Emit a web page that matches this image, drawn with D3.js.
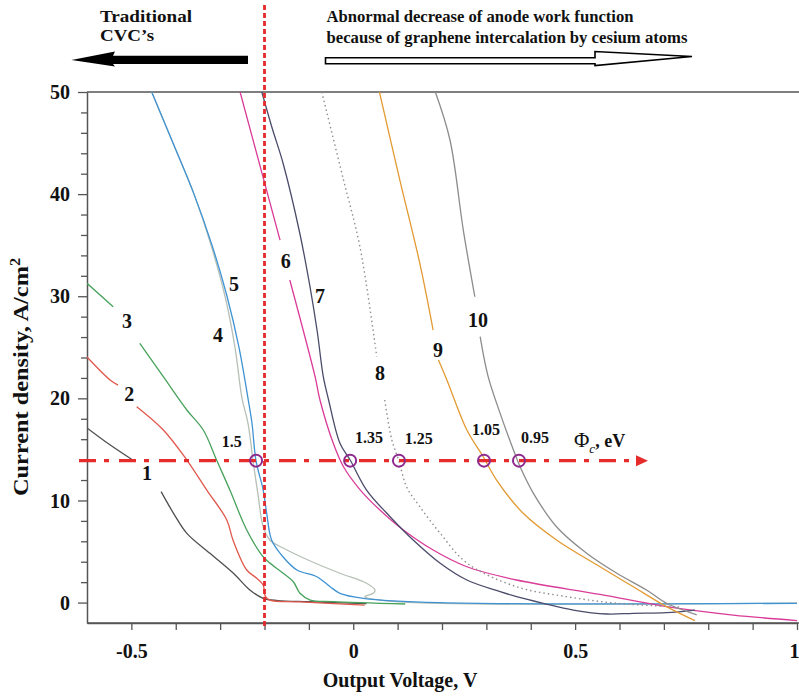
<!DOCTYPE html>
<html>
<head>
<meta charset="utf-8">
<script src="https://cdn.jsdelivr.net/npm/d3@7"></script>
<style>
  html, body { margin: 0; padding: 0; background: #fff; }
  svg { display: block; }
  text { font-family: "Liberation Serif", "Times New Roman", serif; font-weight: bold; fill: #111; }
</style>
</head>
<body>
<svg id="chart" width="799" height="696"></svg>
<script>
// Current–voltage characteristics, [output voltage V, current density A/cm²]; null marks a break for a label
const curve1 = [[-0.6,17.1],[-0.55,15.5],[-0.497,13.96],null,[-0.433,10.86],[-0.405,8.74],[-0.375,6.78],[-0.323,4.83],[-0.27,2.87],[-0.233,1.23],[-0.203,0.42],[-0.17,0.2],[-0.1,0.08],[0.03,-0.1]];
const curve2 = [[-0.6,24.05],[-0.548,21.8],[-0.53,21.3],null,[-0.488,19.18],[-0.428,16.9],[-0.375,13.96],[-0.33,11.02],[-0.285,8.09],[-0.271,6.13],[-0.24,3.19],[-0.218,2.4],[-0.203,1.72],[-0.198,0.6],[-0.188,0.25],[-0.12,0.06],[0.026,-0.24]];
const curve3 = [[-0.6,31.27],[-0.541,28.97],null,[-0.481,25.39],[-0.428,22.12],[-0.375,18.86],[-0.338,16.9],[-0.308,13.96],[-0.278,11.02],[-0.24,7.11],[-0.203,4.49],[-0.158,2.87],[-0.135,2.04],[-0.12,0.91],[-0.097,0.25],[-0.046,0.09],[0.117,-0.14]];
const curve4 = [[-0.4542,50],[-0.4062,45],[-0.3589,40],[-0.3206,35],[-0.289,30],[-0.2665,25],[-0.2507,20],[-0.2372,17.56],[-0.2259,13.9],[-0.214,10.37],[-0.203,7.43],[-0.188,6.13],[-0.158,5.34],[-0.102,4.17],[-0.03,2.87],[0.03,1.89],[0.049,1.23],[0.045,0.91],[0.026,0.58],[0.105,0.06],[1.0,-0.04]];
const curve5 = [[-0.4542,50],[-0.4062,45],[-0.3589,40],[-0.3183,35],[-0.2845,30],[-0.2575,25],[-0.2372,20],[-0.2282,17.56],[-0.2192,13.9],[-0.203,11.02],[-0.195,8.74],[-0.184,6.13],[-0.158,4.46],[-0.127,3.19],[-0.082,2.53],[-0.052,1.55],[-0.03,0.91],[0.023,0.42],[0.196,-0.01],[1.0,-0.07]];
const curve6 = [[-0.255,50],[-0.165,35.5],null,[-0.143,31.59],[-0.086,22.12],[-0.075,19.84],[-0.045,15.6],[-0.022,13.3],[0.016,11.02],[0.06,9.07],[0.113,7.11],[0.18,5.15],[0.256,3.51],[0.368,2.21],[0.556,0.8],[0.706,-0.4],[0.856,-1.22],[1.0,-1.76]];
const curve7 = [[-0.206,50],[-0.183,46.5],[-0.158,43.0],[-0.12,36.07],[-0.0975,30.93],[-0.081,26.5],[-0.0675,22.12],[-0.0555,19.84],[-0.03,15.6],[-0.007,13.96],[0.03,11.02],[0.083,8.41],[0.135,6.13],[0.196,3.85],[0.256,2.21],[0.331,1.07],[0.368,0.58],[0.428,-0.07],[0.496,-0.73],[0.571,-1.12],[0.631,-1.05],[0.706,-0.99],[0.77,-0.73]];
const curve8 = [[-0.071,50],[-0.022,41.4],[0.015,34.85],[0.053,24.08],null,[0.071,19.84],[0.087,15.92],[0.103,13.86],[0.12,11.35],[0.15,9.39],[0.196,6.78],[0.256,3.88],[0.368,1.55],[0.481,0.58],[0.594,-0.07],[0.736,-0.43]];
const curve9 = [[0.059,50],[0.105,41.38],[0.15,33.22],[0.18,26.69],null,[0.192,23.75],[0.211,21.8],[0.256,16.9],[0.293,14.28],[0.323,12.0],[0.383,8.74],[0.458,6.13],[0.556,3.51],[0.631,1.55],[0.706,-0.4],[0.77,-1.77]];
const curve10 = [[0.185,50],[0.218,45.3],[0.248,36.48],[0.274,29.95],null,[0.286,26.04],[0.304,22.12],[0.331,18.53],[0.361,14.94],[0.376,13.3],[0.406,10.7],[0.458,7.43],[0.526,4.83],[0.594,2.87],[0.661,1.23],[0.706,-0.07],[0.774,-1.2]];

const curveNames = ["1","2","3","4","5","6","7","8","9","10"];
const curveData = [curve1, curve2, curve3, curve4, curve5, curve6, curve7, curve8, curve9, curve10];

// Cathode work function Φc read where each characteristic crosses J ≈ 13.9 A/cm²
const phiValues = ["1.5", "1.35", "1.25", "1.05", "0.95"];
const phiVoltages = [-0.219, -0.007, 0.103, 0.2946, 0.3735];
const phiCurrent = 13.9;
const separatorVoltage = -0.2;

// Tick labels
const xTickLabels = ["-0.5", "0", "0.5", "1"];
const yTickLabels = ["0", "10", "20", "30", "40", "50"];

const colors = ["#4f4f4f", "#e0584c", "#47a25c", "#b6c0b6", "#3f93d3", "#d93b98", "#4b4b6b", "#8f8f8f", "#e39a32", "#8c8c8c"];

// Curve number labels and Φc value labels, placed in data units
const curveLabelPos = [[-0.465,12.0],[-0.505,19.74],[-0.51,26.89],[-0.305,25.52],[-0.269,30.51],[-0.152,32.76],[-0.075,29.34],[0.06,21.8],[0.191,24.05],[0.281,26.99]];
const phiLabelPos = [[-0.274,15.26],[0.0355,15.66],[0.1475,15.53],[0.2992,16.41],[0.4096,15.6]];

const svg = d3.select("#chart");
const W = 799;
const x = d3.scaleLinear().domain([-0.6, 1.0]).range([87, 797]);
const y = d3.scaleLinear().domain([-2, 50]).range([623, 92]);

svg.append("rect").attr("width", W).attr("height", 696).attr("fill", "#fff");

svg.append("defs").append("clipPath").attr("id", "plot")
  .append("rect").attr("x", 87).attr("y", 92).attr("width", W - 87).attr("height", 623 - 92);

// Frame: top and bottom borders across the whole width
svg.append("line").attr("x1", 87).attr("x2", W).attr("y1", y(50)).attr("y2", y(50))
  .attr("stroke", "#555").attr("stroke-width", 1.5);
svg.append("line").attr("x1", 87).attr("x2", W).attr("y1", y(-2)).attr("y2", y(-2))
  .attr("stroke", "#555").attr("stroke-width", 1.5);

// Y axis
const yAxis = d3.axisLeft(y)
  .tickValues(d3.range(0, 51, 2))
  .tickSize(6).tickSizeOuter(0)
  .tickFormat(d => (d % 10 === 0 ? yTickLabels[d / 10] : ""));
const gy = svg.append("g").attr("transform", "translate(87,0)").call(yAxis);
gy.select(".domain").attr("stroke", "#555").attr("stroke-width", 1.5);
gy.selectAll(".tick line").attr("stroke", "#555").attr("stroke-width", 1.3)
  .attr("x2", d => (d % 10 === 0 ? -9 : -6));
gy.selectAll(".tick text").attr("x", -17).attr("dy", "0.33em")
  .style("font-size", "20px").attr("fill", "#111");

// X axis
const xAxis = d3.axisBottom(x)
  .tickValues(d3.range(-5, 11).map(i => i / 10))
  .tickSize(7).tickSizeOuter(0)
  .tickFormat(d => {
    const i = [-0.5, 0, 0.5, 1].findIndex(v => Math.abs(v - d) < 1e-9);
    return i >= 0 ? xTickLabels[i] : "";
  });
const gx = svg.append("g").attr("transform", "translate(0,623)").call(xAxis);
gx.select(".domain").attr("stroke", "#555").attr("stroke-width", 1.5);
gx.selectAll(".tick line").attr("stroke", "#555").attr("stroke-width", 1.3);
gx.selectAll(".tick text").attr("y", 35).attr("dy", 0)
  .style("font-size", "20px").attr("fill", "#111")
  // the last label sits against the right edge of the figure
  .attr("text-anchor", d => (d >= 0.999 ? "end" : "middle"))
  .attr("x", d => (d >= 0.999 ? W - x(d) : 0));

// Axis titles
svg.append("text").attr("x", 400).attr("y", 687).attr("text-anchor", "middle")
  .style("font-size", "20px").text("Output Voltage, V");
const yt = svg.append("text").attr("transform", "translate(28,377) rotate(-90)")
  .attr("text-anchor", "middle").style("font-size", "21px")
  .attr("textLength", 238).attr("lengthAdjust", "spacingAndGlyphs");
yt.append("tspan").text("Current density, A/cm");
yt.append("tspan").attr("dy", -8).style("font-size", "14px").text("2");

// Characteristics
const line = d3.line()
  .defined(d => d !== null)
  .x(d => x(d[0])).y(d => y(d[1]))
  .curve(d3.curveCatmullRom.alpha(0.5));

const curvesG = svg.append("g").attr("clip-path", "url(#plot)");
curveData.forEach((data, i) => {
  curvesG.append("path")
    .datum(data)
    .attr("d", line)
    .attr("fill", "none")
    .attr("stroke", colors[i])
    .attr("stroke-width", i === 7 ? 1.4 : 1.3)
    .attr("stroke-dasharray", i === 7 ? "1.5,3" : null)
    .attr("stroke-linejoin", "round");
});

// Curve numbers
svg.append("g").selectAll("text").data(curveNames).join("text")
  .attr("x", (d, i) => x(curveLabelPos[i][0]))
  .attr("y", (d, i) => y(curveLabelPos[i][1]))
  .attr("text-anchor", "middle")
  .style("font-size", "20px")
  .text(d => d);

// Separator between traditional and anomalous behaviour
svg.append("line")
  .attr("x1", x(separatorVoltage)).attr("x2", x(separatorVoltage))
  .attr("y1", 5).attr("y2", 626)
  .attr("stroke", "#e52b2b").attr("stroke-width", 2.8)
  .attr("stroke-dasharray", "5,3");

// Dash-dot line at constant current with Φc arrow
const yPhi = y(phiCurrent);
svg.append("line").attr("x1", 79).attr("x2", 636).attr("y1", yPhi).attr("y2", yPhi)
  .attr("stroke", "#e52b2b").attr("stroke-width", 3.3)
  .attr("stroke-dasharray", "17,8,5,10");
svg.append("path")
  .attr("d", `M636,${yPhi - 5.5}L648,${yPhi}L636,${yPhi + 5.5}Z`)
  .attr("fill", "#e52b2b");

svg.append("g").selectAll("circle").data(phiVoltages).join("circle")
  .attr("cx", d => x(d)).attr("cy", yPhi).attr("r", 6)
  .attr("fill", "none").attr("stroke", "#8e2a8e").attr("stroke-width", 2);

svg.append("g").selectAll("text").data(phiValues).join("text")
  .attr("x", (d, i) => x(phiLabelPos[i][0]))
  .attr("y", (d, i) => y(phiLabelPos[i][1]))
  .attr("text-anchor", "middle")
  .style("font-size", "16px")
  .text(d => d);

const phiT = svg.append("text").attr("x", 574).attr("y", 447).style("font-size", "21px");
phiT.append("tspan").style("font-weight", "normal").text("Φ");
phiT.append("tspan").attr("dy", 6).style("font-size", "13px").style("font-style", "italic")
  .style("font-weight", "normal").text("c");
phiT.append("tspan").attr("dy", -6).style("font-size", "18px").text(", eV");

// Header annotations
svg.append("text").attr("x", 100).attr("y", 22).style("font-size", "16px")
  .attr("textLength", 92).attr("lengthAdjust", "spacingAndGlyphs").text("Traditional");
svg.append("text").attr("x", 100).attr("y", 40.5).style("font-size", "16px")
  .attr("textLength", 54).attr("lengthAdjust", "spacingAndGlyphs").text("CVC’s");
svg.append("text").attr("x", 326.5).attr("y", 21.5).style("font-size", "16px")
  .attr("textLength", 307).attr("lengthAdjust", "spacingAndGlyphs")
  .text("Abnormal decrease of anode work function");
svg.append("text").attr("x", 326.5).attr("y", 43).style("font-size", "16px")
  .attr("textLength", 361).attr("lengthAdjust", "spacingAndGlyphs")
  .text("because of graphene intercalation by cesium atoms");

// Left (solid) and right (hollow) direction arrows
svg.append("path")
  .attr("d", "M71.5,60L115,51.5L113,55.7L248,55.7L248,64L113,64L115,66.5Z")
  .attr("fill", "#000");
svg.append("path")
  .attr("d", "M325.5,57.8L595,57.8L595,51.5L692,56.5L595,65.5L595,63.8L325.5,63.8Z")
  .attr("fill", "#fff").attr("stroke", "#000").attr("stroke-width", 1.6);
</script>
</body>
</html>
